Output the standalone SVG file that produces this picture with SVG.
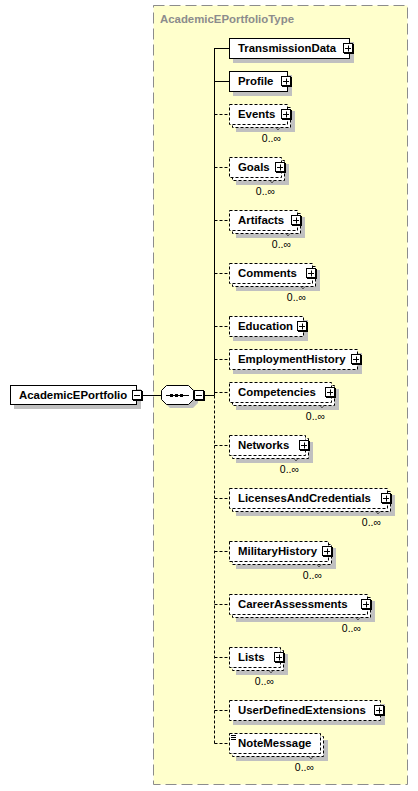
<svg xmlns="http://www.w3.org/2000/svg" width="418" height="791" viewBox="0 0 418 791">
<style>
.bg{fill:#fff}
.cont{fill:#ffffcc;stroke:#8c8c8c;stroke-width:1;stroke-dasharray:11,5}
.ttl{font-family:"Liberation Sans",Arial,sans-serif;font-weight:bold;font-size:11.4px;fill:#8c8c8c}
.lbl{font-family:"Liberation Sans",Arial,sans-serif;font-weight:bold;font-size:11.4px;fill:#000}
.card{font-family:"Liberation Sans",Arial,sans-serif;font-size:10.5px;fill:#000}
.box{fill:#fff;stroke:#000;stroke-width:1}
.obox{fill:#fff;stroke:#000;stroke-width:1;stroke-dasharray:3,2}
.sh{fill:#c0c0c0}
.ln{fill:none;stroke:#000;stroke-width:1}
.dl{fill:none;stroke:#000;stroke-width:1;stroke-dasharray:3,2}
.ic{fill:#fff;stroke:#000;stroke-width:1}
.ics{fill:#000}
.tick{fill:none;stroke:#555;stroke-width:1}
</style>
<defs>
<g id="plus">
<rect class="ics" x="1" y="1" width="10" height="10"/>
<rect class="ic" x="0.5" y="0.5" width="9" height="9"/>
<path class="ln" d="M2,5.5H8M5.5,2.5V8.5"/>
</g>
<g id="minus">
<rect class="ics" x="1" y="1" width="10" height="10"/>
<rect class="ic" x="0.5" y="0.5" width="9" height="9"/>
<path class="ln" d="M2,5.5H8"/>
</g>
</defs>
<rect class="bg" x="0" y="0" width="418" height="791"/>
<g id="AcademicEPortfolioType">
<rect class="cont" x="153.5" y="5.5" width="254" height="779"/>
<text class="ttl" x="160" y="23">AcademicEPortfolioType</text>
</g>
<g id="connectors">
<path class="ln" d="M143,395.5H161"/>
<path class="ln" d="M205,395.5H214.5"/>
<path class="ln" d="M214.5,48V395.5"/>
<path class="dl" d="M214.5,395.5V743.5"/>
<path class="ln" d="M214.5,48.5H229M214.5,81.5H229"/>
<path class="dl" d="M214.5,114.5H229M214.5,167.5H229M214.5,220.5H229M214.5,273.5H229M214.5,326.5H229M214.5,359.5H229M214.5,392.5H229M214.5,445.5H229M214.5,498.5H229M214.5,551.5H229M214.5,604.5H229M214.5,657.5H229M214.5,710.5H229M214.5,743.5H229"/>
</g>
<g id="AcademicEPortfolio">
<rect class="sh" x="14" y="389" width="127" height="20"/>
<rect class="box" x="10.5" y="385.5" width="126" height="19"/>
<text class="lbl" x="19" y="399">AcademicEPortfolio</text>
<use href="#minus" x="132" y="390"/>
</g>
<g id="sequence">
<polygon class="sh" points="170,389 193,389 198,394 198,403 193,408 170,408 165,403 165,394"/>
<polygon class="box" points="166.5,385.5 188.5,385.5 193.5,390.5 193.5,399.5 188.5,404.5 166.5,404.5 161.5,399.5 161.5,390.5"/>
<path class="ln" d="M166,395.5H189"/>
<rect x="170" y="394" width="3" height="3" fill="#000"/>
<rect x="175" y="394" width="3" height="3" fill="#000"/>
<rect x="180" y="394" width="3" height="3" fill="#000"/>
<use href="#minus" x="194" y="390"/>
</g>
<g id="TransmissionData">
<rect class="sh" x="233" y="42" width="121" height="21"/>
<rect class="box" x="229.5" y="38.5" width="120" height="20"/>
<text class="lbl" x="238" y="52">TransmissionData</text>
<use href="#plus" x="343" y="43"/>
</g>
<g id="Profile">
<rect class="sh" x="233" y="75" width="59" height="21"/>
<rect class="box" x="229.5" y="71.5" width="58" height="20"/>
<text class="lbl" x="238" y="85">Profile</text>
<use href="#plus" x="281" y="76"/>
</g>
<g id="Events">
<rect class="sh" x="236" y="111" width="59" height="21"/>
<rect class="obox" x="232.5" y="107.5" width="58" height="20"/>
<rect class="obox" x="229.5" y="104.5" width="58" height="20"/>
<text class="lbl" x="238" y="118">Events</text>
<use href="#plus" x="281" y="109"/>
<polyline class="tick" points="276,127.5 278,130 280,127.5"/>
<text class="card" x="281" y="142" text-anchor="end">0..∞</text>
</g>
<g id="Goals">
<rect class="sh" x="236" y="164" width="53" height="21"/>
<rect class="obox" x="232.5" y="160.5" width="52" height="20"/>
<rect class="obox" x="229.5" y="157.5" width="52" height="20"/>
<text class="lbl" x="238" y="171">Goals</text>
<use href="#plus" x="275" y="162"/>
<polyline class="tick" points="270,180.5 272,183 274,180.5"/>
<text class="card" x="275" y="195" text-anchor="end">0..∞</text>
</g>
<g id="Artifacts">
<rect class="sh" x="236" y="217" width="69" height="21"/>
<rect class="obox" x="232.5" y="213.5" width="68" height="20"/>
<rect class="obox" x="229.5" y="210.5" width="68" height="20"/>
<text class="lbl" x="238" y="224">Artifacts</text>
<use href="#plus" x="291" y="215"/>
<polyline class="tick" points="286,233.5 288,236 290,233.5"/>
<text class="card" x="291" y="248" text-anchor="end">0..∞</text>
</g>
<g id="Comments">
<rect class="sh" x="236" y="270" width="84" height="21"/>
<rect class="obox" x="232.5" y="266.5" width="83" height="20"/>
<rect class="obox" x="229.5" y="263.5" width="83" height="20"/>
<text class="lbl" x="238" y="277">Comments</text>
<use href="#plus" x="306" y="268"/>
<polyline class="tick" points="301,286.5 303,289 305,286.5"/>
<text class="card" x="306" y="301" text-anchor="end">0..∞</text>
</g>
<g id="Education">
<rect class="sh" x="233" y="320" width="75" height="21"/>
<rect class="obox" x="229.5" y="316.5" width="74" height="20"/>
<text class="lbl" x="238" y="330">Education</text>
<use href="#plus" x="297" y="321"/>
</g>
<g id="EmploymentHistory">
<rect class="sh" x="233" y="353" width="129" height="21"/>
<rect class="obox" x="229.5" y="349.5" width="128" height="20"/>
<text class="lbl" x="238" y="363">EmploymentHistory</text>
<use href="#plus" x="351" y="354"/>
</g>
<g id="Competencies">
<rect class="sh" x="236" y="389" width="103" height="21"/>
<rect class="obox" x="232.5" y="385.5" width="102" height="20"/>
<rect class="obox" x="229.5" y="382.5" width="102" height="20"/>
<text class="lbl" x="238" y="396">Competencies</text>
<use href="#plus" x="325" y="387"/>
<polyline class="tick" points="320,405.5 322,408 324,405.5"/>
<text class="card" x="325" y="420" text-anchor="end">0..∞</text>
</g>
<g id="Networks">
<rect class="sh" x="236" y="442" width="77" height="21"/>
<rect class="obox" x="232.5" y="438.5" width="76" height="20"/>
<rect class="obox" x="229.5" y="435.5" width="76" height="20"/>
<text class="lbl" x="238" y="449">Networks</text>
<use href="#plus" x="299" y="440"/>
<polyline class="tick" points="294,458.5 296,461 298,458.5"/>
<text class="card" x="299" y="473" text-anchor="end">0..∞</text>
</g>
<g id="LicensesAndCredentials">
<rect class="sh" x="236" y="495" width="159" height="21"/>
<rect class="obox" x="232.5" y="491.5" width="158" height="20"/>
<rect class="obox" x="229.5" y="488.5" width="158" height="20"/>
<text class="lbl" x="238" y="502">LicensesAndCredentials</text>
<use href="#plus" x="381" y="493"/>
<polyline class="tick" points="376,511.5 378,514 380,511.5"/>
<text class="card" x="381" y="526" text-anchor="end">0..∞</text>
</g>
<g id="MilitaryHistory">
<rect class="sh" x="236" y="548" width="100" height="21"/>
<rect class="obox" x="232.5" y="544.5" width="99" height="20"/>
<rect class="obox" x="229.5" y="541.5" width="99" height="20"/>
<text class="lbl" x="238" y="555">MilitaryHistory</text>
<use href="#plus" x="322" y="546"/>
<polyline class="tick" points="317,564.5 319,567 321,564.5"/>
<text class="card" x="322" y="579" text-anchor="end">0..∞</text>
</g>
<g id="CareerAssessments">
<rect class="sh" x="236" y="601" width="139" height="21"/>
<rect class="obox" x="232.5" y="597.5" width="138" height="20"/>
<rect class="obox" x="229.5" y="594.5" width="138" height="20"/>
<text class="lbl" x="238" y="608">CareerAssessments</text>
<use href="#plus" x="361" y="599"/>
<polyline class="tick" points="356,617.5 358,620 360,617.5"/>
<text class="card" x="361" y="632" text-anchor="end">0..∞</text>
</g>
<g id="Lists">
<rect class="sh" x="236" y="654" width="52" height="21"/>
<rect class="obox" x="232.5" y="650.5" width="51" height="20"/>
<rect class="obox" x="229.5" y="647.5" width="51" height="20"/>
<text class="lbl" x="238" y="661">Lists</text>
<use href="#plus" x="274" y="652"/>
<polyline class="tick" points="269,670.5 271,673 273,670.5"/>
<text class="card" x="274" y="685" text-anchor="end">0..∞</text>
</g>
<g id="UserDefinedExtensions">
<rect class="sh" x="233" y="704" width="152" height="21"/>
<rect class="obox" x="229.5" y="700.5" width="151" height="20"/>
<text class="lbl" x="238" y="714">UserDefinedExtensions</text>
<use href="#plus" x="374" y="705"/>
</g>
<g id="NoteMessage">
<rect class="sh" x="236" y="740" width="92" height="21"/>
<rect class="obox" x="232.5" y="736.5" width="91" height="20"/>
<rect class="obox" x="229.5" y="733.5" width="91" height="20"/>
<path class="ln" d="M231,735.5H236M231,737.5H236M231,739.5H236"/>
<text class="lbl" x="238" y="747">NoteMessage</text>
<polyline class="tick" points="309,756.5 311,759 313,756.5"/>
<text class="card" x="314" y="771" text-anchor="end">0..∞</text>
</g>
</svg>
